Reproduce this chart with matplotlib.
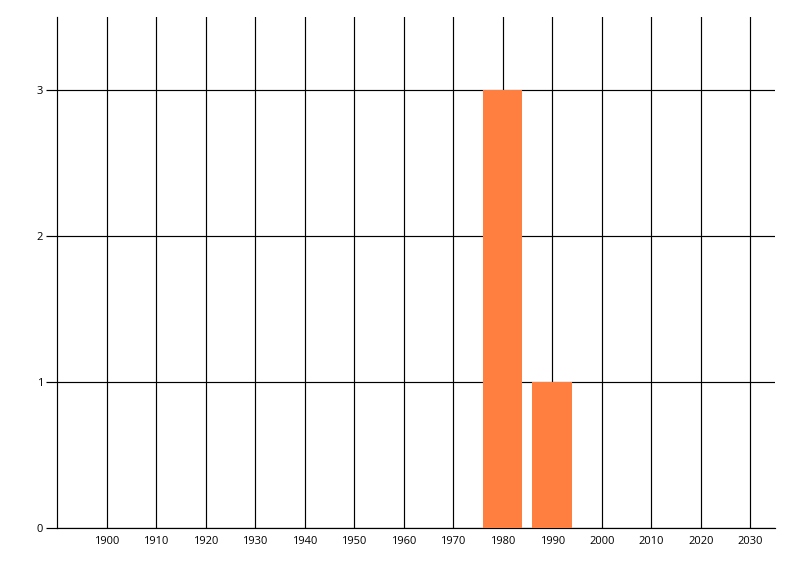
import matplotlib
matplotlib.use('Agg')
import matplotlib.pyplot as plt

# decade histogram
decades = [1980, 1990]
counts = [3, 1]
xticks = list(range(1900, 2031, 10))
yticks = [0, 1, 2, 3]

plt.rcParams['font.family'] = ['Open Sans', 'DejaVu Sans']

fig = plt.figure(figsize=(8, 5.76), dpi=100)
ax = fig.add_axes([57 / 800, 48 / 576, 718 / 800, 511 / 576])

ax.bar(decades, counts, width=8, color='#ff7f40', linewidth=0, zorder=3)

ax.set_xlim(1890, 2035)
ax.set_ylim(0, 3.5)
ax.set_xticks(xticks)
ax.set_yticks(yticks)
ax.set_xticklabels([str(x) for x in xticks])
ax.set_yticklabels([str(y) for y in yticks])

ax.grid(True, color='black', linewidth=0.85, zorder=1)
ax.set_axisbelow(True)

for side in ['top', 'right']:
    ax.spines[side].set_visible(False)
for side in ['left', 'bottom']:
    ax.spines[side].set_linewidth(0.85)

ax.tick_params(axis='x', length=0, pad=6, labelsize=8)
ax.tick_params(axis='y', length=8, width=0.85, pad=2, labelsize=8)

fig.savefig('out.png', dpi=100)
